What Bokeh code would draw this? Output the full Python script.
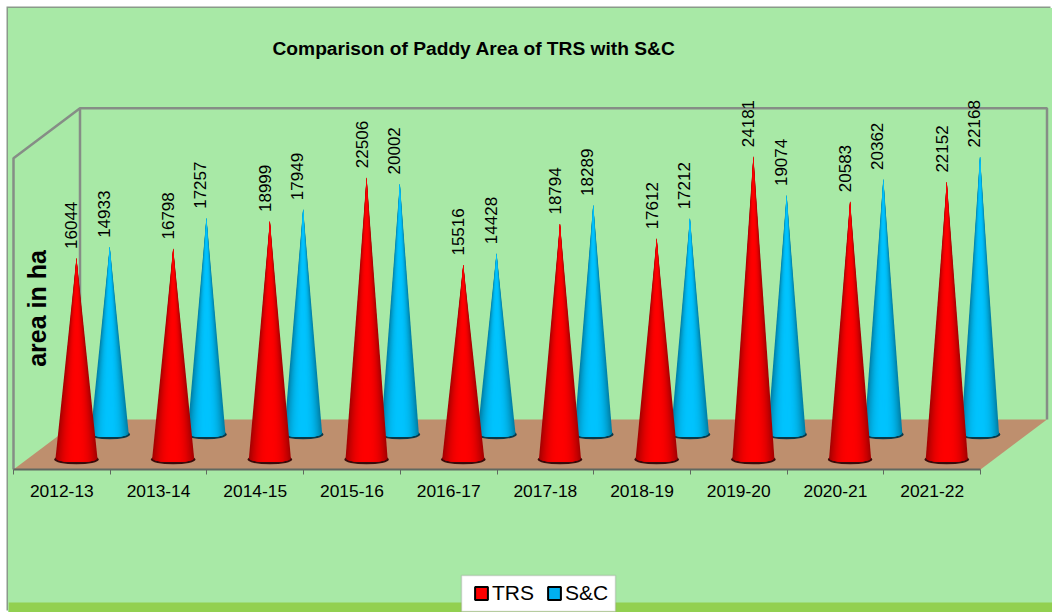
import math
from bokeh.core.properties import value
from bokeh.embed import file_html
from bokeh.models import BoxAnnotation, ColumnDataSource, FixedTicker, Legend, LegendItem, LinearAxis, Range1d
from bokeh.plotting import figure
from bokeh.resources import INLINE

categories = ["2012-13", "2013-14", "2014-15", "2015-16", "2016-17",
              "2017-18", "2018-19", "2019-20", "2020-21", "2021-22"]
trs_values = [16044, 16798, 18999, 22506, 15516, 18794, 17612, 24181, 20583, 22152]
sc_values = [14933, 17257, 17949, 20002, 14428, 18289, 17212, 19074, 20362, 22168]

# scale of the chart: pixels per category and per hectare
PX_X = 96.7
PX_Y = 0.0125
X0 = 5            # canvas px of category 0
FRAME_TOP = 52
FRAME_H = 552
FLOOR_PX = 143    # px from frame bottom up to the value 0 line
DEPTH_X = 66.5 / PX_X
DEPTH_Y = 50 / PX_Y
WALL_TOP = 24900

p = figure(width=1044, height=604, output_backend="svg", toolbar_location=None,
           frame_width=1044, frame_height=FRAME_H,
           x_range=Range1d(-X0 / PX_X, (1044 - X0) / PX_X),
           y_range=Range1d(-FLOOR_PX / PX_Y, (FRAME_H - FLOOR_PX) / PX_Y),
           x_axis_location=None, y_axis_location=None,
           min_border_left=0, min_border_right=0, min_border_top=FRAME_TOP, min_border_bottom=0,
           background_fill_color=None, border_fill_color=None,
           outline_line_color=None,
           styles={"margin": "8px 0 0 8px", "background": "#A8E9A6",
                   "box-shadow": "-1.5px -1.5px 0 #8A9A8A"})
p.grid.visible = False

p.title.text = "Comparison of Paddy Area of TRS with S&C"
p.title.text_font = "Liberation Sans"
p.title.text_font_size = "19.2px"
p.title.text_font_style = "bold"
p.title.text_color = "#000000"
p.title.align = "left"
p.title.offset = 264
p.title.standoff = 4

# bottom band of the chart area
p.add_layout(BoxAnnotation(bottom=-FLOOR_PX / PX_Y, top=-(FLOOR_PX - 10) / PX_Y,
                           fill_color="#92D050", fill_alpha=1, line_color=None, level="underlay"))

n = len(categories)
# floor
p.patch([0, n, n + DEPTH_X, DEPTH_X], [0, 0, DEPTH_Y, DEPTH_Y], fill_color="#BE8F6E", line_color=None)
# walls
WALL = "#868D86"
p.multi_line(
    [[0, 0, DEPTH_X, n + DEPTH_X, n + DEPTH_X], [DEPTH_X, DEPTH_X]],
    [[0, WALL_TOP, WALL_TOP + DEPTH_Y, WALL_TOP + DEPTH_Y, DEPTH_Y], [WALL_TOP + DEPTH_Y, DEPTH_Y]],
    line_color=WALL, line_width=2.5)


def shade(rgb, t, low):
    k = 1 - low * abs(t) ** 2.6
    return "#%02X%02X%02X" % tuple(int(c * k) for c in rgb)


def cones(vals, depth, half_px, rgb, rim, offset_px):
    half = half_px / PX_X
    ry = 3.6 / PX_Y
    xs, ys, cols = [], [], []
    cx = [i + 0.5 + depth * DEPTH_X for i in range(n)]
    base = depth * DEPTH_Y
    p.ellipse(cx, [base - 1 / PX_Y] * n, width=(2 * half_px + 2.5) / PX_X, height=2 * ry + 2.5 / PX_Y,
              fill_color=rim, line_color=None)
    layers = 16
    for c, v in zip(cx, vals):
        for s in range(layers):
            # nested cones, outermost first, so no seams show between the shades
            tk = 1 - s / layers
            arc = [-tk + 2 * tk * j / 24 for j in range(25)]
            xs.append([c] + [c + t * half for t in arc])
            ys.append([base + v] + [base - ry * math.sqrt(max(0, 1 - t * t)) for t in arc])
            cols.append(shade(rgb, tk, 0.34))
    src = ColumnDataSource(dict(xs=xs, ys=ys, c=cols))
    p.patches("xs", "ys", source=src, fill_color="c", line_color=None)
    p.text([c + offset_px / PX_X for c in cx], [base + v + 9 / PX_Y for v in vals],
           text=[str(v) for v in vals], angle=math.pi / 2,
           text_align="left", text_baseline="middle", text_color="#000000",
           text_font=value("Liberation Sans"), text_font_size="17px")


cones(sc_values, 0.72, 19, (0, 196, 255), "#0A3848", -6)
cones(trs_values, 0.22, 21, (255, 0, 0), "#3A0A0A", -5)

p.text([(36 - 13) / PX_X], [(469 - 308) / PX_Y], text=["area in ha"], angle=math.pi / 2,
       text_align="center", text_baseline="middle", text_color="#000000",
       text_font=value("Liberation Sans"), text_font_style="bold", text_font_size="25px")

axis = LinearAxis(ticker=FixedTicker(ticks=[i + 0.5 for i in range(n)], minor_ticks=list(range(n + 1))),
                  major_label_overrides={i + 0.5: c for i, c in enumerate(categories)},
                  bounds=(0, n), axis_line_color="#606860", axis_line_width=2, fixed_location=0,
                  major_tick_line_color=None, major_tick_in=0, major_tick_out=0,
                  minor_tick_line_color="#606860", minor_tick_in=0, minor_tick_out=5,
                  major_label_standoff=10, major_label_text_font="Liberation Sans",
                  major_label_text_font_size="17.4px", major_label_text_color="#000000")
p.add_layout(axis, "below")

# white legend panel, behind the legend itself
p.add_layout(BoxAnnotation(left=(453 - X0) / PX_X, right=(607 - X0) / PX_X,
                           bottom=-(FLOOR_PX - 1) / PX_Y, top=-(FLOOR_PX - 37) / PX_Y,
                           fill_color="#FFFFFF", fill_alpha=1, line_color="#8A8A8A", line_width=1.5))

nan = float("nan")
r_trs = p.quad(left=[nan], right=[nan], top=[nan], bottom=[nan],
               fill_color="#FF0000", line_color="#000000", line_width=2)
r_sc = p.quad(left=[nan], right=[nan], top=[nan], bottom=[nan],
              fill_color="#00B0F0", line_color="#000000", line_width=2)
legend = Legend(items=[LegendItem(label="TRS", renderers=[r_trs]), LegendItem(label="S&C", renderers=[r_sc])],
                orientation="horizontal", location=(465, 7),
                label_text_font="Liberation Sans", label_text_font_size="21px", label_text_color="#000000",
                background_fill_alpha=0, border_line_color=None,
                glyph_width=16, glyph_height=16, label_standoff=3, spacing=12, padding=0, margin=0)
p.add_layout(legend, "center")

open("out.html", "w").write(file_html(p, INLINE))
